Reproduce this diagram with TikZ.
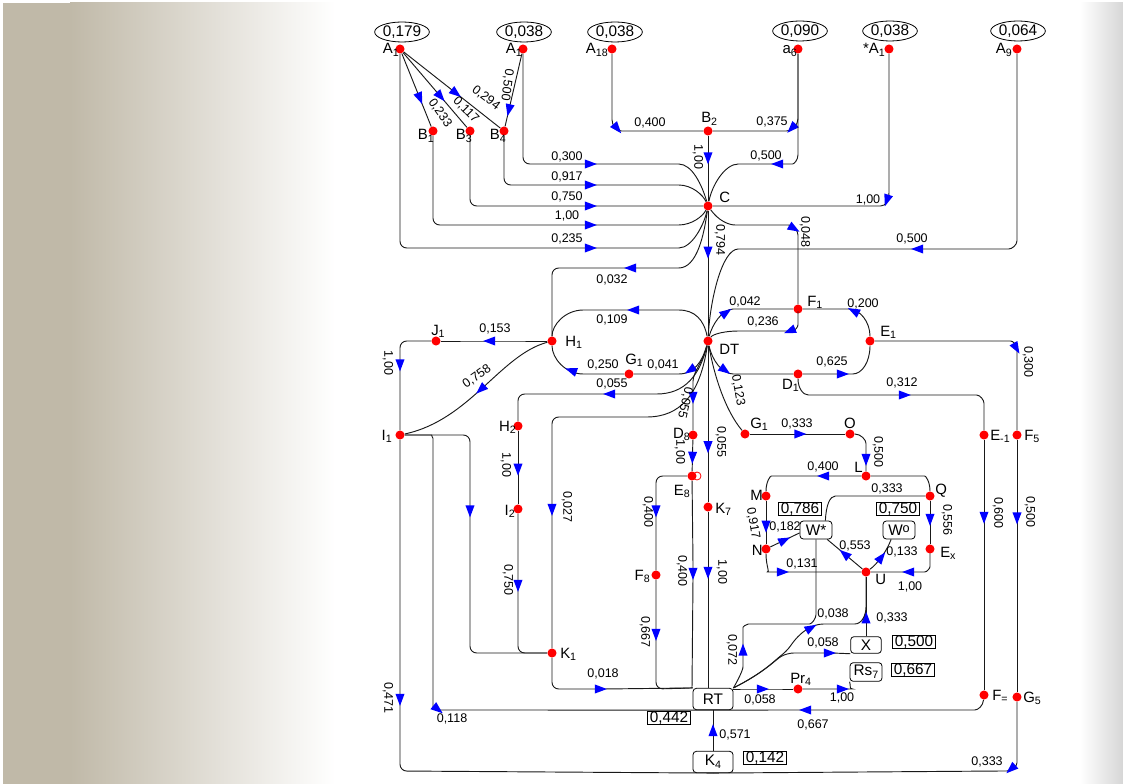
\documentclass[tikz,border=0pt]{standalone}
\usepackage{fontspec}
\setmainfont{Liberation Sans}
\usetikzlibrary{shapes.geometric}
\newcommand\lsub[1]{\raisebox{-0.35ex}{\fontsize{8}{8}\selectfont #1}}
\definecolor{tanc}{RGB}{192,185,168}
\definecolor{arrblue}{RGB}{0,0,255}
\begin{document}
\begin{tikzpicture}[x=0.75pt,y=-0.75pt,
 edge/.style={draw=black!90, line width=0.7pt, rounded corners=5pt},
 arr/.style={isosceles triangle, isosceles triangle stretches, fill=arrblue, draw=none, sharp corners, inner sep=0pt, minimum width=6.8pt, minimum height=9pt, sloped, allow upside down, shape border rotate=0},
 dot/.style={circle, fill=red, draw=none, inner sep=0pt, minimum size=6.8pt},
 lab/.style={font=\fontsize{9.4}{10}\selectfont, inner sep=0pt},
 nlab/.style={font=\fontsize{11.2}{12}\selectfont, inner sep=0pt},
 val/.style={ellipse, draw, line width=0.6pt, minimum width=41pt, minimum height=15pt, inner sep=0pt, font=\fontsize{11.5}{12}\selectfont},
 vbox/.style={rectangle, draw, line width=0.6pt, inner xsep=1.5pt, inner ysep=0.2pt, font=\fontsize{11.5}{12}\selectfont},
 rbox/.style={rectangle, rounded corners=2.5pt, draw, line width=0.6pt, inner sep=0pt, font=\fontsize{11.5}{12}\selectfont}]
\useasboundingbox (0,0) rectangle (1123,784);
\fill[white] (0,0) rectangle (1123,784);
\fill[tanc] (3,3) rectangle (70,784);
\shade[left color=tanc, right color=white] (70,3) rectangle (335,784);
\shade[left color=white, right color=black!16] (1080,3) rectangle (1123,784);

% value ellipses
\node[val] (e1) at (402,32) {0,179};
\node[val] (e2) at (524,32) {0,038};
\node[val] (e3) at (615,32) {0,038};
\node[val] (e4) at (800,31) {0,090};
\node[val] (e5) at (890,31) {0,038};
\node[val] (e6) at (1018,31) {0,064};

% dots
\node[dot] (A1) at (400,49) {};
\node[dot] (A1b) at (523,49) {};
\node[dot] (A18) at (612,49) {};
\node[dot] (a6) at (798,49) {};
\node[dot] (sA1) at (889,49) {};
\node[dot] (A9) at (1017,49) {};
\node[dot] (B1) at (433,131) {};
\node[dot] (B3) at (470,131) {};
\node[dot] (B4) at (504,131) {};
\node[dot] (B2) at (708,131) {};
\node[dot] (C) at (708,206) {};
\node[dot] (DT) at (708,341) {};
\node[dot] (F1) at (798,309) {};
\node[dot] (E1) at (870,341) {};
\node[dot] (D1) at (798,374) {};
\node[dot] (G1R) at (745,434) {};
\node[dot] (O) at (850,434) {};
\node[dot] (L) at (866,476) {};
\node[dot] (M) at (766,496) {};
\node[dot] (Q) at (930,496) {};
\node[dot] (N) at (766,549) {};
\node[dot] (Ex) at (930,549) {};
\node[dot] (U) at (866,572) {};
\node[dot] (Em1) at (984,435) {};
\node[dot] (F5) at (1017,435) {};
\node[dot] (Feq) at (984,695) {};
\node[dot] (G5) at (1017,697) {};
\node[dot] (J1) at (436,341) {};
\node[dot] (H1) at (552,341) {};
\node[dot] (G1L) at (629,374) {};
\node[dot] (I1) at (400,435) {};
\node[dot] (H2) at (518,426) {};
\node[dot] (I2) at (518,509) {};
\node[dot] (K1) at (552,653) {};
\node[dot] (D8) at (693,435) {};
\draw[red, line width=0.6pt, fill=white] (697,476) circle (3pt);
\node[dot] (E8) at (692,476) {};
\node[dot] (K7) at (708,507) {};
\node[dot] (F8) at (656,575) {};
\node[dot] (Pr4) at (798,689) {};

% boxes
\node[rbox, minimum width=30pt, minimum height=16pt] (RT) at (713,699) {RT};
\node[rbox, minimum width=30pt, minimum height=16pt] (K4) at (713,762) {K\lsub{4}};
\node[rbox, minimum width=23pt, minimum height=12.5pt] (X) at (866,645) {X};
\node[rbox, minimum width=24pt, minimum height=14pt] (Rs7) at (866,672) {Rs\lsub{7}};
\node[rbox, minimum width=24pt, minimum height=13.5pt] (Wstar) at (816,530) {W*};
\node[rbox, minimum width=24pt, minimum height=13.5pt] (Wo) at (899,530) {W\raisebox{0.35ex}{\fontsize{9.5}{9}\selectfont o}};
\node[vbox] (v786) at (800,509) {0,786};
\node[vbox] (v750) at (898,509) {0,750};
\node[vbox] (v500) at (914,642) {0,500};
\node[vbox] (v667) at (913,670) {0,667};
\node[vbox] (v442) at (669,718) {0,442};
\node[vbox] (v142) at (765,758) {0,142};

% ---------- edges: top ----------
\draw[edge] (A1) -- node[arr,pos=0.58]{} (B1);
\draw[edge] (A1) -- node[arr,pos=0.56]{} (B3);
\draw[edge] (A1) -- node[arr,pos=0.52]{} (B4);
\draw[edge] (A1b) -- node[arr,pos=0.74]{} (B4);
\draw[edge] (A1b) -- (523,164) -- (580,164) -- node[arr]{} (596,164) -- (672,164) .. controls (692,164) and (702,185) .. (C);
\draw[edge] (B4) -- (504,185) -- (580,185) -- node[arr]{} (596,185) -- (672,185) .. controls (692,185) and (703,195) .. (C);
\draw[edge] (B3) -- (470,206) -- (580,206) -- node[arr]{} (596,206) -- (C);
\draw[edge] (B1) -- (433,225) -- (580,225) -- node[arr]{} (596,225) -- (672,225) .. controls (692,225) and (703,216) .. (C);
\draw[edge] (A1) -- (400,248) -- (580,248) -- node[arr]{} (596,248) -- (672,248) .. controls (692,248) and (704,225) .. (C);
\draw[edge] (A18) -- (612,113) .. controls (612,125) and (616,131) .. node[arr,pos=0.5]{} (628,131) -- (B2);
\draw[edge] (a6) -- (798,112) .. controls (798,125) and (792,131) .. node[arr,pos=0.5]{} (780,131) -- (B2);
\draw[edge] (a6) -- (798,148) .. controls (798,160) and (794,164) .. (786,164) -- node[arr]{} (774,164) -- (745,164) .. controls (725,164) and (712,185) .. (C);
\draw[edge] (B2) -- node[arr,pos=0.3]{} (C);
\draw[edge] (sA1) -- (889,186) .. controls (889,200) and (886,206) .. node[arr,pos=0.35]{} (874,206) -- (C);
\draw[edge] (C) .. controls (718,220) and (728,225) .. (742,225) -- (782,225) .. controls (794,225) and (798,231) .. node[arr,pos=0.35]{} (798,242) -- (F1);
\draw[edge] (A9) -- (1017,234) .. controls (1017,245) and (1012,249) .. (1002,249) -- (926,249) -- node[arr]{} (914,249) -- (745,249) .. controls (722,249) and (710,300) .. (DT);
\draw[edge] (C) -- node[arr,pos=0.31]{} (DT);
\draw[edge] (C) .. controls (704,235) and (697,268) .. (672,268) -- (640,268) -- node[arr]{} (626,268) -- (552,268) -- (H1);

% ---------- edges: around DT ----------
\draw[edge] (DT) .. controls (704,320) and (695,310) .. (672,310) -- (642,310) -- node[arr]{} (630,310) -- (590,310) .. controls (565,310) and (552,325) .. (H1);
\draw[edge] (DT) .. controls (702,362) and (694,374) .. node[arr,pos=0.6]{} (672,374) -- (G1L);
\draw[edge] (G1L) -- (590,374) .. controls (565,374) and (552,358) .. node[arr,pos=0.25]{} (H1);
\draw[edge] (DT) .. controls (700,375) and (685,394) .. (650,394) -- (618,394) -- node[arr]{} (606,394) -- (518,394) -- (H2);
\draw[edge] (DT) .. controls (700,395) and (680,417) .. (640,417) -- (552,417) -- (552,501) -- node[arr]{} (552,513) -- (K1);
\draw[edge] (DT) .. controls (704,360) and (693,372) .. (693,388) -- node[arr]{} (693,402) -- (D8);
\draw[edge] (D8) -- node[arr,pos=0.48]{} (E8);
\draw[edge] (DT) -- node[arr,pos=0.63]{} (K7);
\draw[edge] (DT) .. controls (712,325) and (722,309) .. node[arr,pos=0.65]{} (740,309) -- (F1);
\draw[edge] (F1) -- (798,318) .. controls (798,327) and (795,331) .. node[arr,pos=0.7]{} (785,331) -- (745,331) .. controls (725,331) and (713,334) .. (DT);
\draw[edge] (E1) .. controls (870,322) and (860,309) .. node[arr,pos=0.7]{} (842,309) -- (F1);
\draw[edge] (D1) -- (834,374) -- node[arr]{} (846,374) .. controls (862,374) and (870,362) .. (E1);
\draw[edge] (DT) .. controls (712,360) and (722,374) .. node[arr,pos=0.62]{} (740,374) -- (D1);
\draw[edge] (DT) .. controls (714,375) and (725,410) .. (G1R);
\draw[edge] (E1) -- (1004,341) .. controls (1013,341) and (1017,345) .. node[arr,pos=0.6]{} (1017,356) -- (F5);
\draw[edge] (D1) .. controls (798,388) and (803,395) .. (815,395) -- (896,395) -- node[arr]{} (908,395) -- (970,395) .. controls (980,395) and (984,400) .. (984,410) -- (Em1);
\draw[edge] (Em1) -- node[arr,pos=0.3]{} (Feq);
\draw[edge] (F5) -- node[arr,pos=0.3]{} (G5);

% ---------- left ----------
\draw[edge] (H1) -- (498,341) -- node[arr]{} (486,341) -- (J1);
\draw[edge] (J1) -- (400,341) -- (400,356) -- node[arr]{} (400,369) -- (I1);
\draw[edge] (H1) .. controls (500,355) and (470,420) .. node[arr,pos=0.5]{} (I1);
\draw[edge] (H2) -- node[arr,pos=0.49]{} (I2);
\draw[edge] (I2) -- (518,576) -- node[arr]{} (518,590) -- (518,653) -- (K1);
\draw[edge] (I1) -- (470,435) -- (470,502) -- node[arr]{} (470,515) -- (470,653) -- (K1);
\draw[edge] (I1) -- (425,435) .. controls (431,435) and (433,438) .. (433,445) -- (433,700) .. controls (433,707) and (436,710) .. node[arr,pos=0.5]{} (446,710) -- (RT.south);
\draw[edge] (I1) -- (400,690) -- node[arr]{} (400,704) -- (400,771) -- (K4.south);
\draw[edge] (K1) -- (552,689) -- (592,689) -- node[arr]{} (604,689) -- (RT.north west);

% ---------- middle ----------
\draw[edge] (E8) -- (656,476) -- (656,502) -- node[arr]{} (656,515) -- (F8);
\draw[edge] (F8) -- (656,625) -- node[arr]{} (656,639) -- (656,689) -- (RT.north west);
\draw[edge] (E8) -- (693,564) -- node[arr]{} (693,578) -- (E8 |- RT.north);
\draw[edge] (K7) -- node[arr,pos=0.33]{} (K7 |- RT.north);
\draw[edge] (K4) -- node[arr,pos=0.44]{} (RT);
\draw[edge] (G5) -- (1017,756) .. controls (1017,766) and (1012,771) .. node[arr,pos=0.5]{} (1000,771) -- (K4.south);
\draw[edge] (Feq) .. controls (983,706) and (978,710) .. (968,710) -- (814,710) -- node[arr]{} (802,710) -- (RT.south);

% ---------- right cluster ----------
\draw[edge] (G1R) -- node[arr,pos=0.5]{} (O);
\draw[edge] (O) .. controls (861,434) and (866,440) .. (866,450) -- node[arr]{} (866,464) -- (L);
\draw[edge] (L) -- (832,476) -- node[arr]{} (820,476) -- (778,476) .. controls (770,476) and (766,482) .. (M);
\draw[edge] (L) -- (918,476) .. controls (926,476) and (930,482) .. (Q);
\draw[edge] (Q) -- (842,496) .. controls (830,496) and (826,505) .. (Wstar.45);
\draw[edge] (Q) -- (930,511) -- node[arr]{} (930,523) -- (Ex);
\draw[edge] (M) -- node[arr,pos=0.53]{} (N);
\draw[edge] (N) -- node[arr,pos=0.4]{} (Wstar.190);
\draw[edge] (U) -- node[arr,pos=0.45]{} (Wstar.-40);
\draw[edge] (U) .. controls (876,565) and (886,553) .. node[arr,pos=0.45]{} (Wo.-130);
\draw[edge] (Ex) -- (930,560) .. controls (930,568) and (927,572) .. (918,572) -- node[arr]{} (904,572) -- (U);
\draw[edge] (N) .. controls (766,566) and (770,572) .. (774,572) -- node[arr]{} (786,572) -- (U);
\draw[edge] (X) -- node[arr,pos=0.27]{} (U);
\draw[edge] (RT.north east) .. controls (765,672) and (775,660) .. (787,651) .. controls (800,632) and (812,624) .. node[arr,pos=0.55]{} (830,624) -- (848,624) .. controls (862,624) and (866,615) .. (866,600) -- (U);
\draw[edge] (RT.north east) .. controls (765,672) and (775,660) .. (787,653) -- (821,653) -- node[arr]{} (833,653) -- (X.south west);
\draw[edge] (RT.north east) .. controls (738,680) and (743,670) .. (743,660) -- node[arr]{} (743,645) -- (743,634) .. controls (743,627) and (746,624) .. (755,624) -- (803,624) .. controls (812,624) and (816,618) .. (816,608) -- (Wstar.south);
\draw[edge] (Pr4 -| RT.east) -- (754,689) -- node[arr]{} (766,689) -- (Pr4);
\draw[edge] (Pr4) -- (834,689) -- node[arr]{} (846,689) .. controls (849,689) and (851,686) .. (Rs7.south west);

% ---------- node labels ----------
\node[nlab, anchor=base east] at (399,54) {A\lsub{1}};
\node[nlab, anchor=base east] at (522,54) {A\lsub{1}};
\node[nlab, anchor=base east] at (608,54) {A\lsub{18}};
\node[nlab, anchor=base east] at (797,54) {a\lsub{6}};
\node[nlab, anchor=base east] at (885,54) {*A\lsub{1}};
\node[nlab, anchor=base east] at (1012,54) {A\lsub{9}};
\node[nlab, anchor=base east] at (434,140) {B\lsub{1}};
\node[nlab, anchor=base east] at (472,140) {B\lsub{3}};
\node[nlab, anchor=base east] at (506,140) {B\lsub{4}};
\node[nlab, anchor=base west] at (701,123) {B\lsub{2}};
\node[nlab, anchor=base west] at (719,203) {C};
\node[nlab, anchor=base west] at (719,354) {DT};
\node[nlab, anchor=base west] at (565,346) {H\lsub{1}};
\node[nlab, anchor=base west] at (431,335) {J\lsub{1}};
\node[nlab, anchor=base west] at (625,364) {G\lsub{1}};
\node[nlab, anchor=base east] at (392,440) {I\lsub{1}};
\node[nlab, anchor=base east] at (516,431) {H\lsub{2}};
\node[nlab, anchor=base east] at (515,515) {I\lsub{2}};
\node[nlab, anchor=base west] at (560,658) {K\lsub{1}};
\node[nlab, anchor=base east] at (690,438) {D\lsub{8}};
\node[nlab, anchor=base east] at (690,495) {E\lsub{8}};
\node[nlab, anchor=base west] at (715,513) {K\lsub{7}};
\node[nlab, anchor=base east] at (650,580) {F\lsub{8}};
\node[nlab, anchor=base west] at (807,306) {F\lsub{1}};
\node[nlab, anchor=base west] at (880,336) {E\lsub{1}};
\node[nlab, anchor=base east] at (799,389) {D\lsub{1}};
\node[nlab, anchor=base west] at (750,428) {G\lsub{1}};
\node[nlab, anchor=base] at (850,428) {O};
\node[nlab, anchor=base west] at (990,440) {E\lsub{-1}};
\node[nlab, anchor=base west] at (1024,440) {F\lsub{5}};
\node[nlab, anchor=base east] at (863,472) {L};
\node[nlab, anchor=base east] at (763,500) {M};
\node[nlab, anchor=base west] at (935,494) {Q};
\node[nlab, anchor=base east] at (763,555) {N};
\node[nlab, anchor=base west] at (940,557) {E\lsub{x}};
\node[nlab, anchor=base west] at (875,584) {U};
\node[nlab, anchor=base west] at (790,683) {Pr\lsub{4}};
\node[nlab, anchor=base west] at (992,700) {F\lsub{=}};
\node[nlab, anchor=base west] at (1023,702) {G\lsub{5}};

% ---------- edge labels ----------
\node[lab, rotate=-55] at (440,113) {0,233};
\node[lab, rotate=-45] at (466,110) {0,117};
\node[lab, rotate=-37] at (486,98) {0,294};
\node[lab, rotate=-98] at (507,85) {0,500};
\node[lab] at (567,157) {0,300};
\node[lab] at (567,177) {0,917};
\node[lab] at (567,197) {0,750};
\node[lab] at (567,216) {1,00};
\node[lab] at (567,239) {0,235};
\node[lab] at (650,123) {0,400};
\node[lab] at (772,122) {0,375};
\node[lab, rotate=-90] at (698,157) {1,00};
\node[lab] at (766,156) {0,500};
\node[lab] at (868,200) {1,00};
\node[lab, rotate=-90] at (805,232) {0,048};
\node[lab, rotate=-90] at (720,240) {0,794};
\node[lab] at (912,239) {0,500};
\node[lab] at (612,280) {0,032};
\node[lab] at (612,320) {0,109};
\node[lab] at (495,329) {0,153};
\node[lab, rotate=-90] at (388,363) {1,00};
\node[lab, rotate=35] at (477,377) {0,758};
\node[lab] at (603,365) {0,250};
\node[lab] at (663,365) {0,041};
\node[lab] at (612,384) {0,055};
\node[lab, rotate=-103] at (685,403) {0,055};
\node[lab] at (745,302) {0,042};
\node[lab] at (763,322) {0,236};
\node[lab] at (863,304) {0,200};
\node[lab] at (832,362) {0,625};
\node[lab, rotate=-80] at (738,390) {0,123};
\node[lab] at (902,383) {0,312};
\node[lab, rotate=-90] at (1028,362) {0,300};
\node[lab] at (797,424) {0,333};
\node[lab, rotate=-90] at (878,452) {0,500};
\node[lab, rotate=-90] at (680,452) {1,00};
\node[lab, rotate=-90] at (721,442) {0,055};
\node[lab] at (823,467) {0,400};
\node[lab] at (887,489) {0,333};
\node[lab, rotate=-80] at (753,523) {0,917};
\node[lab, rotate=-90] at (947,520) {0,556};
\node[lab] at (785,527) {0,182};
\node[lab] at (855,546) {0,553};
\node[lab] at (902,552) {0,133};
\node[lab] at (802,564) {0,131};
\node[lab] at (910,587) {1,00};
\node[lab, rotate=-90] at (998,513) {0,600};
\node[lab, rotate=-90] at (1030,512) {0,500};
\node[lab, rotate=-90] at (506,465) {1,00};
\node[lab, rotate=-90] at (567,507) {0,027};
\node[lab, rotate=-90] at (508,580) {0,750};
\node[lab, rotate=-90] at (648,512) {0,400};
\node[lab, rotate=-90] at (682,571) {0,400};
\node[lab, rotate=-90] at (722,572) {1,00};
\node[lab, rotate=-90] at (645,632) {0,667};
\node[lab, rotate=-90] at (732,650) {0,072};
\node[lab] at (833,614) {0,038};
\node[lab] at (892,618) {0,333};
\node[lab] at (823,643) {0,058};
\node[lab] at (603,674) {0,018};
\node[lab] at (760,700) {0,058};
\node[lab] at (842,698) {1,00};
\node[lab, rotate=-90] at (388,698) {0,471};
\node[lab] at (452,719) {0,118};
\node[lab] at (813,725) {0,667};
\node[lab] at (735,735) {0,571};
\node[lab] at (987,762) {0,333};
\end{tikzpicture}
\end{document}
